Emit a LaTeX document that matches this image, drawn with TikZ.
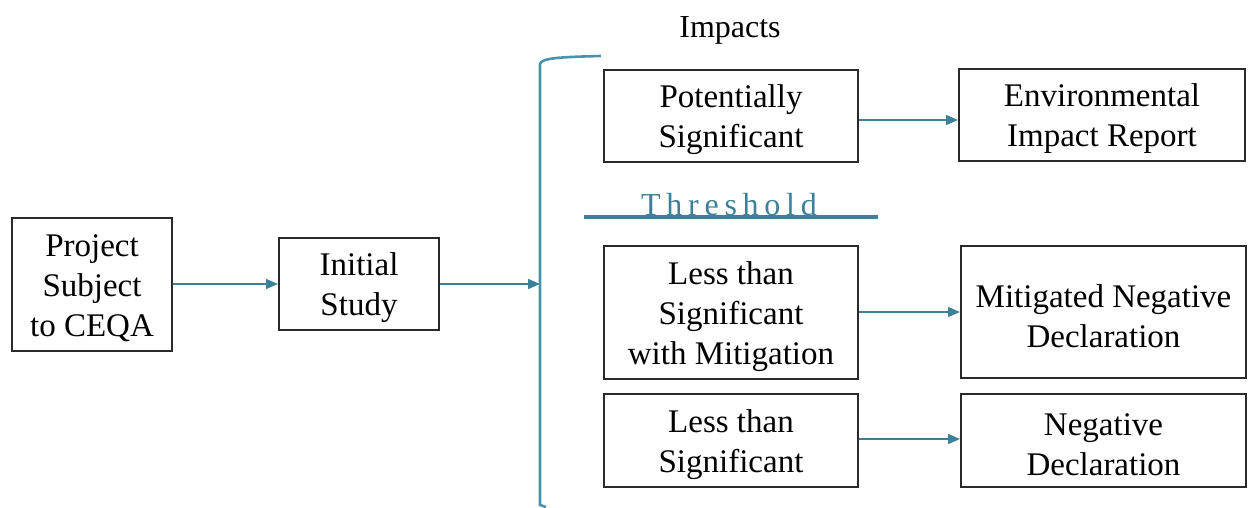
\documentclass[tikz,border=0pt]{standalone}
\usepackage{fontspec}
\setmainfont{Liberation Serif}
\usetikzlibrary{arrows.meta}
\definecolor{teal1}{HTML}{3C8099}
\definecolor{teal2}{HTML}{4A92AA}
\definecolor{boxc}{HTML}{2A2A2A}
\begin{document}
\begin{tikzpicture}[x=1pt,y=-1pt,
  box/.style={draw=boxc,line width=2pt,inner sep=0pt},
  txt/.style={align=center,inner sep=0pt,yshift=-4pt,font=\fontsize{33}{40}\selectfont},
  conn/.style={draw=teal1,line width=1.6pt,-{Triangle[length=12pt,width=10pt]}}]
\useasboundingbox (0,0) rectangle (1248,508);
\node[box,minimum width=160pt,minimum height=133pt,label={[txt]center:{Project\\Subject\\to CEQA}}] (p) at (92,284.5) {};
\node[box,minimum width=160pt,minimum height=92pt,label={[txt]center:{Initial\\Study}}] (i) at (359,284) {};
\node[box,minimum width=254pt,minimum height=92pt,label={[txt]center:{Potentially\\Significant}}] (ps) at (731,116) {};
\node[box,minimum width=286pt,minimum height=92pt,label={[txt]center:{Environmental\\Impact Report}}] (eir) at (1102,115) {};
\node[box,minimum width=254pt,minimum height=133pt,label={[txt]center:{Less than\\Significant\\with Mitigation}}] (lsm) at (731,312.5) {};
\node[box,minimum width=285pt,minimum height=132pt,label={[txt]center:{Mitigated Negative\\Declaration}}] (mnd) at (1103.5,312) {};
\node[box,minimum width=254pt,minimum height=93pt,label={[txt]center:{Less than\\Significant}}] (ls) at (731,440.5) {};
\node[box,minimum width=285pt,minimum height=93pt,label={[txt]center:{Negative\\Declaration}}] (nd) at (1103.5,440.5) {};
\node[font=\fontsize{32}{39}\selectfont,inner sep=0pt,anchor=base] (imp) at (730,38) {Impacts};
\coordinate (bt) at (601,56);
\coordinate (bb) at (546,507);
\coordinate (bm) at (540,284);
\draw[teal2,line width=2.6pt] (bt) .. controls (560,57) and (541,58) .. (540,64) -- (540,505) -- (bb);
\path[conn] (p.east |- 0,284) -- (i.west |- 0,284);
\path[conn] (i.east |- 0,284) -- (bm);
\path[conn] (ps.east |- 0,120) -- (eir.west |- 0,120);
\path[conn] (lsm.east |- 0,312) -- (mnd.west |- 0,312);
\path[conn] (ls.east |- 0,439) -- (nd.west |- 0,439);
\coordinate (tl) at (584,217);
\coordinate (tr) at (878,217);
\draw[teal1,line width=4pt] (tl) -- (tr);
\node[text=teal1,inner sep=0pt,anchor=base,font=\fontsize{32}{36}\selectfont\addfontfeature{LetterSpace=18}] (th) at (729,215) {Threshold};
\end{tikzpicture}
\end{document}
